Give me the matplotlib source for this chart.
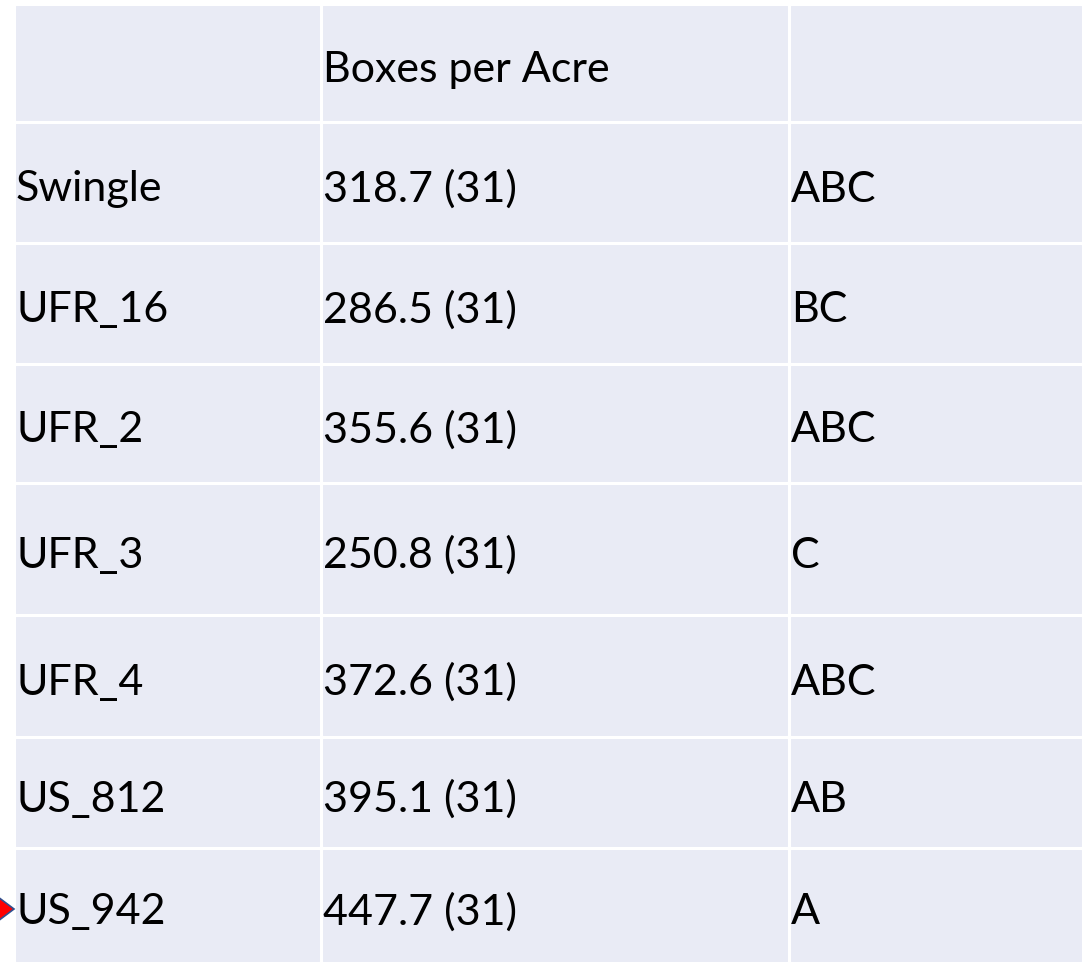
import matplotlib
matplotlib.use('Agg')
import matplotlib.pyplot as plt
from matplotlib.patches import Rectangle, Polygon

# данные таблицы
header = ['', 'Boxes per Acre', '']
rootstocks = ['Swingle', 'UFR_16', 'UFR_2', 'UFR_3', 'UFR_4', 'US_812', 'US_942']
boxes = [318.7, 286.5, 355.6, 250.8, 372.6, 395.1, 447.7]
n_trees = [31, 31, 31, 31, 31, 31, 31]
letters = ['ABC', 'BC', 'ABC', 'C', 'ABC', 'AB', 'A']

W, H = 1083, 964
fig = plt.figure(figsize=(W / 100, H / 100), dpi=100)
ax = fig.add_axes([0, 0, 1, 1])
ax.set_xlim(0, W)
ax.set_ylim(H, 0)
ax.axis('off')

# геометрия таблицы в пикселях (строки разной высоты, как в оригинале)
col_x = [14, 321, 789, 1083]
row_y = [4, 122, 243, 364, 483, 615, 737, 848, 963]
bg = '#E9EBF5'

rows = [header] + [[r, f'{b:.1f} ({n})', l]
                   for r, b, n, l in zip(rootstocks, boxes, n_trees, letters)]

for i, row in enumerate(rows):
    y0, y1 = row_y[i], row_y[i + 1]
    for j, txt in enumerate(row):
        x0, x1 = col_x[j], col_x[j + 1]
        ax.add_patch(Rectangle((x0, y0), x1 - x0, y1 - y0, facecolor=bg,
                               edgecolor='white', linewidth=2.2))
        if txt:
            ax.text(x0 + 2, (y0 + y1) / 2 + 19, txt, fontsize=31,
                    family='Lato', va='baseline', ha='left', color='black')

# красная стрелка у последней строки
ya = 909
ax.add_patch(Polygon([(-2, ya - 12), (14, ya), (-2, ya + 12)], closed=True,
                     facecolor='#FF0000', edgecolor='#2F4F8F', linewidth=1.2))

fig.savefig('out.png', dpi=100)
